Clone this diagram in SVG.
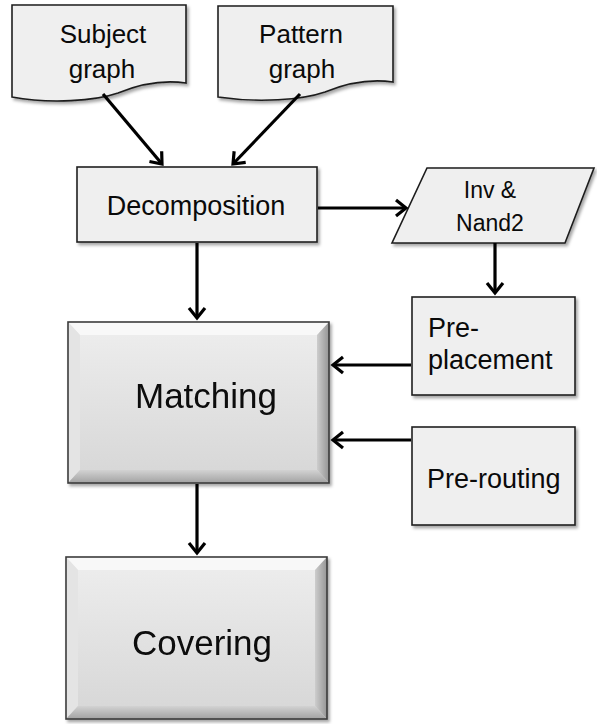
<svg xmlns="http://www.w3.org/2000/svg" width="597" height="724" viewBox="0 0 597 724">
  <defs>
    <style>
      .box { fill: #efefef; stroke: #1e1e1e; stroke-width: 1.6; }
      .lbl { font-family: "Liberation Sans", Arial, sans-serif; fill: #0a0a0a; }
      .mid { text-anchor: middle; }
      .edge { fill: none; stroke: #000; stroke-width: 3.2; marker-end: url(#head); }
      .rim { stroke: #3c3c3c; stroke-width: 1.6; fill: none; }
    </style>
    <marker id="head" markerUnits="userSpaceOnUse" viewBox="-14 -11 18 22" refX="0" refY="0" markerWidth="18" markerHeight="22" orient="auto">
      <path d="M -10,-8 L 0,0 L -10,8" fill="none" stroke="#000" stroke-width="3.2" stroke-linejoin="miter"/>
    </marker>
    <filter id="shadow" x="-10%" y="-10%" width="125%" height="125%">
      <feDropShadow dx="2" dy="2.5" stdDeviation="1.6" flood-color="#000" flood-opacity="0.35"/>
    </filter>
    <linearGradient id="face" x1="0" y1="0" x2="0" y2="1">
      <stop offset="0" stop-color="#eeeeee"/>
      <stop offset="1" stop-color="#d6d6d6"/>
    </linearGradient>
    <linearGradient id="rightBevel" x1="0" y1="0" x2="1" y2="0">
      <stop offset="0" stop-color="#cdcdcd"/>
      <stop offset="1" stop-color="#959595"/>
    </linearGradient>
    <linearGradient id="bottomBevel" x1="0" y1="0" x2="0" y2="1">
      <stop offset="0" stop-color="#d2d2d2"/>
      <stop offset="1" stop-color="#a2a2a2"/>
    </linearGradient>
  </defs>

  <rect width="597" height="724" fill="#ffffff"/>

  <!-- document-shaped inputs -->
  <g id="subject-graph">
    <path class="box" filter="url(#shadow)" d="M 12,5 H 186 V 83 C 165,80 140,84 118,93 C 95,101 50,104 12,97 Z"/>
    <text class="lbl mid" x="103" y="43" font-size="26">Subject</text>
    <text class="lbl mid" x="102" y="78" font-size="26">graph</text>
  </g>

  <g id="pattern-graph">
    <path class="box" filter="url(#shadow)" d="M 218,6 H 393 V 82 C 372,79 347,83 325,92 C 302,100 258,103 218,97 Z"/>
    <text class="lbl mid" x="301" y="43" font-size="26">Pattern</text>
    <text class="lbl mid" x="302" y="78" font-size="26">graph</text>
  </g>

  <g id="decomposition">
    <rect class="box" filter="url(#shadow)" x="77" y="167" width="240" height="75"/>
    <text class="lbl mid" x="196" y="215" font-size="27">Decomposition</text>
  </g>

  <g id="inv-nand2">
    <path class="box" filter="url(#shadow)" d="M 427,168 H 594 L 565,243 H 392 Z"/>
    <text class="lbl mid" x="490" y="198" font-size="23">Inv &amp;</text>
    <text class="lbl mid" x="490" y="231" font-size="23">Nand2</text>
  </g>

  <g id="pre-placement">
    <rect class="box" filter="url(#shadow)" x="412" y="297" width="163" height="98"/>
    <text class="lbl" x="428" y="337" font-size="27">Pre-</text>
    <text class="lbl" x="428" y="369" font-size="27">placement</text>
  </g>

  <g id="pre-routing">
    <rect class="box" filter="url(#shadow)" x="412" y="427" width="163" height="98"/>
    <text class="lbl" x="427" y="488" font-size="27">Pre-routing</text>
  </g>

  <!-- bevelled process blocks -->
  <g id="matching" filter="url(#shadow)">
    <rect x="68" y="322" width="261" height="161" fill="url(#face)"/>
    <path d="M 68,322 H 329 L 317,335 H 80 Z" fill="#f8f8f8"/>
    <path d="M 68,322 L 80,335 V 470 L 68,483 Z" fill="#e4e4e4"/>
    <path d="M 329,322 L 317,335 V 470 L 329,483 Z" fill="url(#rightBevel)"/>
    <path d="M 68,483 L 80,470 H 317 L 329,483 Z" fill="url(#bottomBevel)"/>
    <rect class="rim" x="68" y="322" width="261" height="161"/>
    <text class="lbl mid" x="206" y="408" font-size="35">Matching</text>
  </g>

  <g id="covering" filter="url(#shadow)">
    <rect x="66" y="557" width="261" height="162" fill="url(#face)"/>
    <path d="M 66,557 H 327 L 315,570 H 78 Z" fill="#f8f8f8"/>
    <path d="M 66,557 L 78,570 V 706 L 66,719 Z" fill="#e4e4e4"/>
    <path d="M 327,557 L 315,570 V 706 L 327,719 Z" fill="url(#rightBevel)"/>
    <path d="M 66,719 L 78,706 H 315 L 327,719 Z" fill="url(#bottomBevel)"/>
    <rect class="rim" x="66" y="557" width="261" height="162"/>
    <text class="lbl mid" x="202" y="655" font-size="35">Covering</text>
  </g>

  <!-- connectors -->
  <g id="connectors">
    <line class="edge" x1="103" y1="94" x2="162" y2="164"/>
    <line class="edge" x1="300" y1="94" x2="233" y2="164"/>
    <line class="edge" x1="318" y1="208" x2="406" y2="208"/>
    <line class="edge" x1="495" y1="243" x2="495" y2="293"/>
    <line class="edge" x1="197" y1="243" x2="197" y2="318"/>
    <line class="edge" x1="411" y1="365" x2="333" y2="365"/>
    <line class="edge" x1="411" y1="440" x2="333" y2="440"/>
    <line class="edge" x1="197" y1="484" x2="197" y2="553"/>
  </g>
</svg>
